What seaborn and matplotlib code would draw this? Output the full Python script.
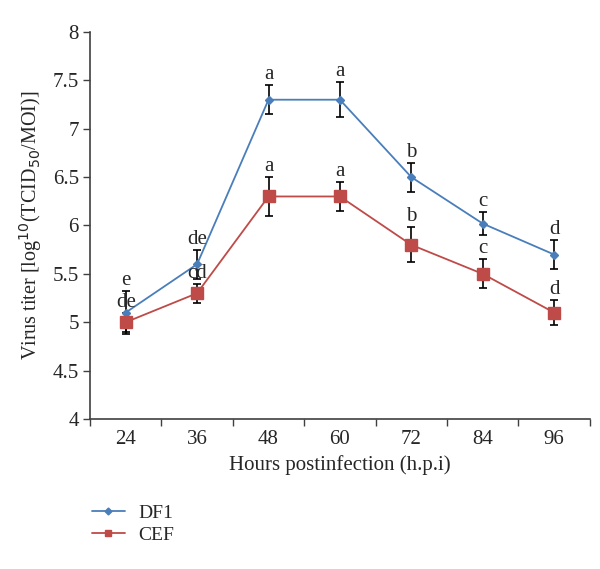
import numpy as np
import pandas as pd
import matplotlib
matplotlib.use("Agg")
import matplotlib.pyplot as plt
import seaborn as sns
from matplotlib.lines import Line2D

hours = ["24", "36", "48", "60", "72", "84", "96"]
df1 = [5.10, 5.60, 7.30, 7.30, 6.50, 6.02, 5.70]
df1_err = [0.22, 0.15, 0.15, 0.18, 0.15, 0.12, 0.15]
df1_letters = ["e", "de", "a", "a", "b", "c", "d"]
cef = [5.00, 5.30, 6.30, 6.30, 5.80, 5.50, 5.10]
cef_err = [0.10, 0.10, 0.20, 0.15, 0.18, 0.15, 0.13]
cef_letters = ["de", "cd", "a", "a", "b", "c", "d"]

sns.set_style("white")
plt.rcParams['font.family'] = ['Liberation Serif', 'DejaVu Serif']

blue = "#4a7ebb"
red = "#be4b48"

fig = plt.figure(figsize=(6, 5.69), dpi=100)
ax = fig.add_axes([0.15, 0.2636, 0.833, 0.6802])

pos = np.arange(len(hours))
data = pd.DataFrame({
    "pos": np.concatenate([pos, pos]),
    "titer": df1 + cef,
    "cell": ["DF1"] * len(hours) + ["CEF"] * len(hours),
})

sns.lineplot(data=data, x="pos", y="titer", hue="cell",
             palette={"DF1": blue, "CEF": red},
             linewidth=1.3, ax=ax, legend=False)

ax.errorbar(pos, df1, yerr=df1_err, fmt="none", ecolor="black", elinewidth=1.2,
            capsize=3, capthick=1.2, zorder=3)
ax.errorbar(pos, cef, yerr=cef_err, fmt="none", ecolor="black", elinewidth=1.2,
            capsize=3, capthick=1.2, zorder=3)
ax.plot(pos, df1, linestyle="none", marker="D", markersize=4.5, color=blue, zorder=4)
ax.plot(pos, cef, linestyle="none", marker="s", markersize=8, color=red, zorder=4)

for i in range(len(hours)):
    ax.text(pos[i], df1[i] + df1_err[i] + 0.01, df1_letters[i], ha="center", va="bottom", fontsize=15, zorder=5)
    ax.text(pos[i], cef[i] + cef_err[i] + 0.01, cef_letters[i], ha="center", va="bottom", fontsize=15, zorder=5)

ax.set_xlim(-0.5, len(hours) - 0.5)
ax.set_ylim(4, 8)
ax.set_yticks(np.arange(4, 8.01, 0.5))
ax.set_yticklabels(["4", "4.5", "5", "5.5", "6", "6.5", "7", "7.5", "8"])
ax.set_xticks(pos)
ax.set_xticklabels(hours)
ax.set_xticks(np.arange(-0.5, len(hours), 1.0), minor=True)
ax.tick_params(axis="x", which="major", bottom=True, length=0, labelsize=15, pad=8)
ax.tick_params(axis="x", which="minor", bottom=True, length=5, width=1, color="#404040", direction="out")
ax.tick_params(axis="y", which="major", left=True, length=5, width=1, color="#404040", direction="out", labelsize=15, pad=3)
for s in ["top", "right"]:
    ax.spines[s].set_visible(False)
for s in ["left", "bottom"]:
    ax.spines[s].set_color("#404040")
    ax.spines[s].set_linewidth(1.2)

ax.set_xlabel("Hours postinfection (h.p.i)", fontsize=15, labelpad=4)
ax.set_ylabel("Virus titer [log$^{10}$(TCID$_{50}$/MOI)]", fontsize=14.5, labelpad=6)

handles = [
    Line2D([0], [0], color=blue, marker="D", markersize=3.5, linewidth=1.3),
    Line2D([0], [0], color=red, marker="s", markersize=5, linewidth=1.3),
]
fig.legend(handles, ["DF1", "CEF"], loc="upper left", bbox_to_anchor=(0.13, 0.138),
           frameon=False, fontsize=14, handlelength=1.7, handletextpad=0.7,
           labelspacing=0.25, borderpad=0.2)

fig.savefig("out.png", dpi=100)
